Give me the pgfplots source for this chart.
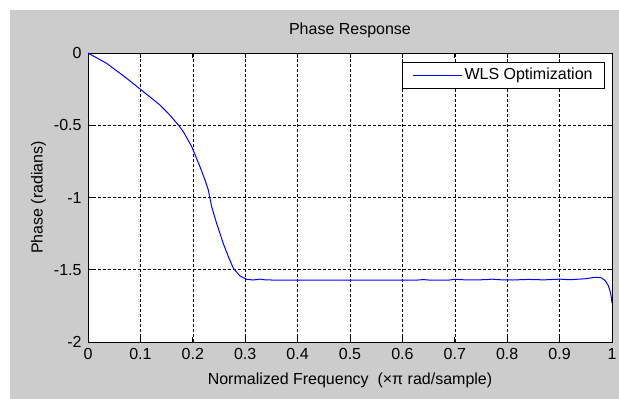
\documentclass[border=0pt]{standalone}
\usepackage{pgfplots}
\pgfplotsset{compat=1.18}
\usepackage{fontspec}
\setmainfont{Liberation Sans}
\definecolor{figbg}{RGB}{204,204,204}
\begin{document}
\fontsize{16pt}{19pt}\selectfont
\begin{tikzpicture}[x=1pt,y=1pt]
\useasboundingbox (0,0) rectangle (619,399);
\fill[figbg] (10,0) rectangle (619,389);
\begin{axis}[
  at={(88pt,57pt)}, anchor=south west,
  width=524pt, height=289pt, scale only axis,
  xmin=0, xmax=1, ymin=-2, ymax=0,
  axis background/.style={fill=white},
  xtick={0,0.1,0.2,0.3,0.4,0.5,0.6,0.7,0.8,0.9,1},
  xticklabels={0,0.1,0.2,0.3,0.4,0.5,0.6,0.7,0.8,0.9,1},
  ytick={-2,-1.5,-1,-0.5,0},
  yticklabels={-2,-1.5,-1,-0.5,0},
  tick align=inside, major tick length=5pt,
  grid=major,
  grid style={black, dash pattern=on 3pt off 2pt, line width=0.6pt},
  axis line style={black, line width=0.8pt},
  tick style={black, line width=0.8pt},
  xticklabel style={inner sep=0pt, anchor=north, yshift=-6.3pt},
  yticklabel style={inner sep=0pt, anchor=east, xshift=-6.3pt},
  title={Phase Response},
  title style={at={(axis description cs:0.5,1)}, anchor=base, yshift=12.3pt, inner sep=0pt},
  xlabel={Normalized Frequency \ (×π rad/sample)},
  xlabel style={at={(axis description cs:0.5,0)}, anchor=base, yshift=-42.3pt, inner sep=0pt},
  ylabel={Phase (radians)},
  ylabel style={at={(axis description cs:-0.0865,0.5)}, anchor=base, inner sep=0pt},
  legend style={at={(axis description cs:0.9866,0.9689)}, anchor=north east,
    draw=black, line width=0.8pt, fill=white, inner xsep=10pt, inner ysep=0pt,
    nodes={inner xsep=0pt, inner ysep=6pt},
    font=\fontsize{16pt}{19pt}\selectfont},
  legend image code/.code={\path[draw=none, fill=none] (0pt,0pt) -- (52pt,0pt); \draw[draw=blue, line width=1pt] (0pt,0pt) -- (49pt,0pt);},
]
\addplot[blue, line width=1pt] coordinates {
(0,0) (0.0357,-0.072) (0.0738,-0.175) (0.1,-0.251) (0.1374,-0.360)
(0.156,-0.429) (0.1724,-0.498) (0.182,-0.545) (0.198,-0.648)
(0.2137,-0.787) (0.2233,-0.879) (0.2296,-0.948) (0.2328,-1.006) (0.236,-1.064)
(0.2455,-1.179) (0.258,-1.317) (0.268,-1.41) (0.2774,-1.49) (0.29,-1.543)
(0.3028,-1.566) (0.315,-1.571) (0.322,-1.568) (0.328,-1.565) (0.335,-1.569)
(0.35,-1.571) (0.5,-1.571) (0.63,-1.571) (0.64,-1.568) (0.65,-1.571)
(0.69,-1.571) (0.70,-1.566) (0.72,-1.570) (0.76,-1.569) (0.77,-1.565)
(0.79,-1.570) (0.81,-1.571) (0.84,-1.567) (0.87,-1.570) (0.90,-1.565)
(0.92,-1.569) (0.95,-1.562) (0.96,-1.556) (0.971,-1.552) (0.98,-1.556)
(0.987,-1.575) (0.993,-1.61) (0.997,-1.655) (0.999,-1.70) (1.0,-1.73)
};
\addlegendentry{WLS Optimization\hspace*{2pt}}
\end{axis}
\end{tikzpicture}
\end{document}
